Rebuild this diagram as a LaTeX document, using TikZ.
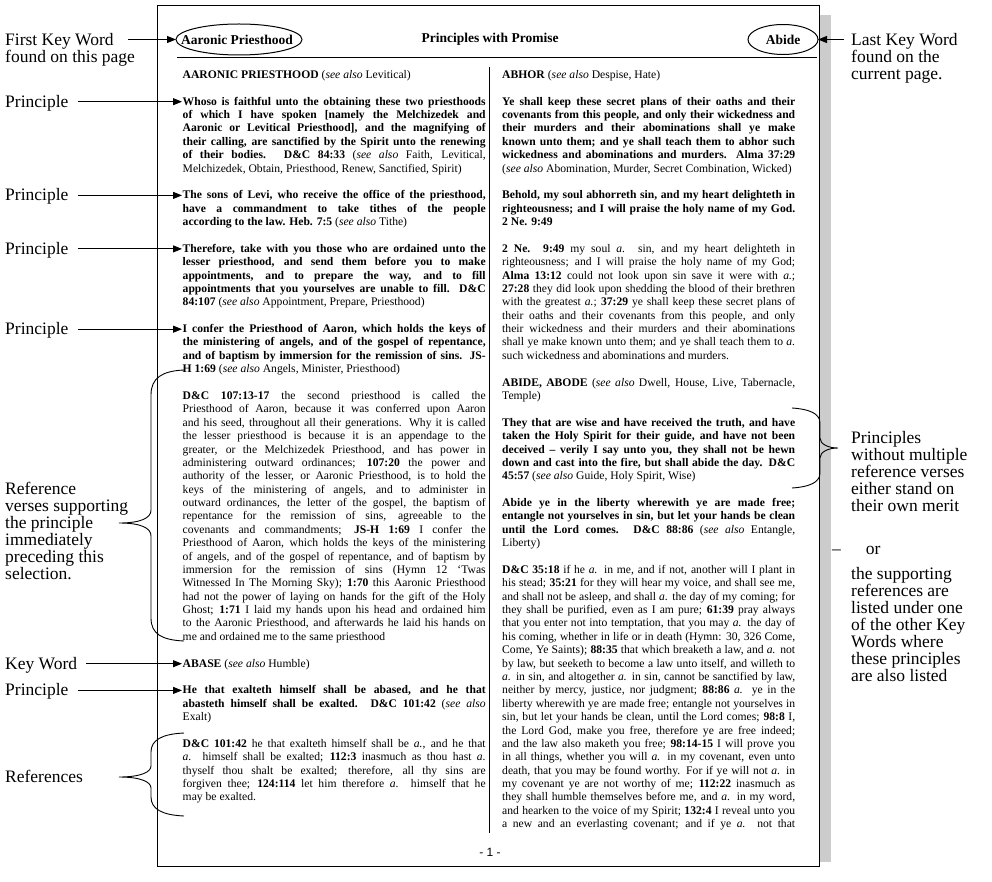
\documentclass[tikz,border=0pt]{standalone}
\usepackage{fontspec}
\setmainfont{Liberation Serif}
\newfontfamily\pnfont{Liberation Sans}
\usetikzlibrary{arrows.meta}
\definecolor{shadowgray}{RGB}{204,204,204}
\newcommand\JL[1]{\hbox to\hsize{#1}}
\newcommand\LL[1]{\hbox{#1}}
\newcommand\GAP{\vskip\baselineskip}
\newcommand\sa{\textit{see also}\ }
\newcommand\bodyfont{\fontsize{11.63}{13.38}\selectfont\lineskiplimit=-20pt }
\begin{document}
\begin{tikzpicture}[x=1pt,y=-1pt,
  lbl/.style={font=\fontsize{17.5}{17}\selectfont, inner sep=0, anchor=base west},
  arr/.style={-{Triangle[length=9pt,width=7pt]}, line width=0.9pt},
  brc/.style={line width=0.9pt},
  hdr/.style={font=\fontsize{13.5}{15}\selectfont\bfseries, inner sep=0}]
\useasboundingbox (0,0) rectangle (992,882);
% page
\fill[shadowgray] (819,15) rectangle (831,862);
\draw[line width=0.9pt] (157,5) rectangle (819,866);
% header
\node[hdr] (kw1) at (237,39.5) {Aaronic Priesthood};
\draw[line width=1pt] (239,39.5) ellipse [x radius=63, y radius=15.5];
\coordinate (e1w) at (176,39.5);
\node[hdr] (title) at (490,39.5) {Principles with Promise};
\node[hdr] (kw2) at (783,39.5) {Abide};
\draw[line width=1pt] (783,39.5) ellipse [x radius=35, y radius=15];
\coordinate (e2e) at (818,39.5);
\coordinate (rl) at (177,57);
\coordinate (rr) at (817,57);
\draw[line width=0.9pt] (rl) -- (rr);
\coordinate (dt) at (489,67);
\coordinate (db) at (489,833);
\draw[line width=0.9pt] (dt) -- (db);
\node[font=\pnfont\fontsize{12}{14}\selectfont, inner sep=0] (pn) at (490,852) {- 1 -};
% left column
\node[anchor=base west, inner sep=0] (leftcol) at (182.5,78.4) {\vtop{\hsize=303pt \bodyfont
\LL{\textbf{AARONIC PRIESTHOOD} (\sa Levitical)}
\GAP
\JL{\bfseries Whoso is faithful unto the obtaining these two priesthoods}
\JL{\bfseries of which I have spoken [namely the Melchizedek and}
\JL{\bfseries Aaronic or Levitical Priesthood], and the magnifying of}
\JL{\bfseries their calling, are sanctified by the Spirit unto the renewing}
\JL{\bfseries of their bodies. D\&C 84:33 \mdseries(\sa Faith, Levitical,}
\LL{Melchizedek, Obtain, Priesthood, Renew, Sanctified, Spirit)}
\GAP
\JL{\bfseries The sons of Levi, who receive the office of the priesthood,}
\JL{\bfseries have a commandment to take tithes of the people}
\LL{\bfseries according to the law. Heb. 7:5 \mdseries(\sa Tithe)}
\GAP
\JL{\bfseries Therefore, take with you those who are ordained unto the}
\JL{\bfseries lesser priesthood, and send them before you to make}
\JL{\bfseries appointments, and to prepare the way, and to fill}
\JL{\bfseries appointments that you yourselves are unable to fill. D\&C}
\LL{\textbf{84:107} (\sa Appointment, Prepare, Priesthood)}
\GAP
\JL{\bfseries I confer the Priesthood of Aaron, which holds the keys of}
\JL{\bfseries the ministering of angels, and of the gospel of repentance,}
\JL{\bfseries and of baptism by immersion for the remission of sins. JS-}
\LL{\textbf{H 1:69} (\sa Angels, Minister, Priesthood)}
\GAP
\JL{\textbf{D\&C 107:13-17} the second priesthood is called the}
\JL{Priesthood of Aaron, because it was conferred upon Aaron}
\JL{and his seed, throughout all their generations. Why it is called}
\JL{the lesser priesthood is because it is an appendage to the}
\JL{greater, or the Melchizedek Priesthood, and has power in}
\JL{administering outward ordinances; \textbf{107:20} the power and}
\JL{authority of the lesser, or Aaronic Priesthood, is to hold the}
\JL{keys of the ministering of angels, and to administer in}
\JL{outward ordinances, the letter of the gospel, the baptism of}
\JL{repentance for the remission of sins, agreeable to the}
\JL{covenants and commandments; \textbf{JS-H 1:69} I confer the}
\JL{Priesthood of Aaron, which holds the keys of the ministering}
\JL{of angels, and of the gospel of repentance, and of baptism by}
\JL{immersion for the remission of sins (Hymn 12 ‘Twas}
\JL{Witnessed In The Morning Sky); \textbf{1:70} this Aaronic Priesthood}
\JL{had not the power of laying on hands for the gift of the Holy}
\JL{Ghost; \textbf{1:71} I laid my hands upon his head and ordained him}
\JL{to the Aaronic Priesthood, and afterwards he laid his hands on}
\LL{me and ordained me to the same priesthood}
\GAP
\LL{\textbf{ABASE} (\sa Humble)}
\GAP
\JL{\bfseries He that exalteth himself shall be abased, and he that}
\JL{\bfseries abasteth himself shall be exalted. D\&C 101:42 \mdseries(\textit{see also}}
\LL{Exalt)}
\GAP
\JL{\textbf{D\&C 101:42} he that exalteth himself shall be \textit{a.}, and he that}
\JL{\textit{a.} himself shall be exalted; \textbf{112:3} inasmuch as thou hast \textit{a.}}
\JL{thyself thou shalt be exalted; therefore, all thy sins are}
\JL{forgiven thee; \textbf{124:114} let him therefore \textit{a.} himself that he}
\LL{may be exalted.}
}};
% right column
\node[anchor=base west, inner sep=0] (rightcol) at (502,78.4) {\vtop{\hsize=293pt \bodyfont
\LL{\textbf{ABHOR} (\sa Despise, Hate)}
\GAP
\JL{\bfseries Ye shall keep these secret plans of their oaths and their}
\JL{\bfseries covenants from this people, and only their wickedness and}
\JL{\bfseries their murders and their abominations shall ye make}
\JL{\bfseries known unto them; and ye shall teach them to abhor such}
\JL{\bfseries wickedness and abominations and murders. Alma 37:29}
\LL{(\sa Abomination, Murder, Secret Combination, Wicked)}
\GAP
\JL{\bfseries Behold, my soul abhorreth sin, and my heart delighteth in}
\JL{\bfseries righteousness; and I will praise the holy name of my God.}
\LL{\bfseries 2 Ne. 9:49}
\GAP
\JL{\textbf{2 Ne. 9:49} my soul \textit{a.} sin, and my heart delighteth in}
\JL{righteousness; and I will praise the holy name of my God;}
\JL{\textbf{Alma 13:12} could not look upon sin save it were with \textit{a.};}
\JL{\textbf{27:28} they did look upon shedding the blood of their brethren}
\JL{with the greatest \textit{a.}; \textbf{37:29} ye shall keep these secret plans of}
\JL{their oaths and their covenants from this people, and only}
\JL{their wickedness and their murders and their abominations}
\JL{shall ye make known unto them; and ye shall teach them to \textit{a.}}
\LL{such wickedness and abominations and murders.}
\GAP
\JL{\textbf{ABIDE, ABODE} (\sa Dwell, House, Live, Tabernacle,}
\LL{Temple)}
\GAP
\JL{\bfseries They that are wise and have received the truth, and have}
\JL{\bfseries taken the Holy Spirit for their guide, and have not been}
\JL{\bfseries deceived – verily I say unto you, they shall not be hewn}
\JL{\bfseries down and cast into the fire, but shall abide the day. D\&C}
\LL{\textbf{45:57} (\sa Guide, Holy Spirit, Wise)}
\GAP
\JL{\bfseries Abide ye in the liberty wherewith ye are made free;}
\JL{\bfseries entangle not yourselves in sin, but let your hands be clean}
\JL{\bfseries until the Lord comes. D\&C 88:86 \mdseries(\sa Entangle,}
\LL{Liberty)}
\GAP
\JL{\textbf{D\&C 35:18} if he \textit{a.} in me, and if not, another will I plant in}
\JL{his stead; \textbf{35:21} for they will hear my voice, and shall see me,}
\JL{and shall not be asleep, and shall \textit{a.} the day of my coming; for}
\JL{they shall be purified, even as I am pure; \textbf{61:39} pray always}
\JL{that you enter not into temptation, that you may \textit{a.} the day of}
\JL{his coming, whether in life or in death (Hymn: 30, 326 Come,}
\JL{Come, Ye Saints); \textbf{88:35} that which breaketh a law, and \textit{a.} not}
\JL{by law, but seeketh to become a law unto itself, and willeth to}
\JL{\textit{a.} in sin, and altogether \textit{a.} in sin, cannot be sanctified by law,}
\JL{neither by mercy, justice, nor judgment; \textbf{88:86} \textit{a.} ye in the}
\JL{liberty wherewith ye are made free; entangle not yourselves in}
\JL{sin, but let your hands be clean, until the Lord comes; \textbf{98:8} I,}
\JL{the Lord God, make you free, therefore ye are free indeed;}
\JL{and the law also maketh you free; \textbf{98:14-15} I will prove you}
\JL{in all things, whether you will \textit{a.} in my covenant, even unto}
\JL{death, that you may be found worthy. For if ye will not \textit{a.} in}
\JL{my covenant ye are not worthy of me; \textbf{112:22} inasmuch as}
\JL{they shall humble themselves before me, and \textit{a.} in my word,}
\JL{and hearken to the voice of my Spirit; \textbf{132:4} I reveal unto you}
\JL{a new and an everlasting covenant; and if ye \textit{a.} not that}
}};
% left annotations
\node[lbl] (fk1) at (5,45.5) {First Key Word};
\node[lbl] (fk2) at (5,62.5) {found on this page};
\draw[arr] ([xshift=14pt]fk1.east |- e1w) -- (e1w);
\node[lbl] (lk1) at (851,45.5) {Last Key Word};
\node[lbl] (lk2) at (851,62.5) {found on the};
\node[lbl] (lk3) at (851,79.5) {current page.};
\draw[arr] ([xshift=-7pt]lk1.west |- e2e) -- (e2e);
\coordinate (t1) at (182,101.7);
\coordinate (t2) at (182,195.4);
\coordinate (t3) at (182,248.9);
\coordinate (t4) at (182,329.2);
\coordinate (t5) at (182,663.7);
\coordinate (t6) at (182,690.4);
\node[lbl] (p1) at (5,107.2) {Principle};
\node[lbl] (p2) at (5,200.9) {Principle};
\node[lbl] (p3) at (5,254.4) {Principle};
\node[lbl] (p4) at (5,334.7) {Principle};
\node[lbl] (kwl) at (5,669.2) {Key Word};
\node[lbl] (p5) at (5,695.9) {Principle};
\draw[arr] ([xshift=9pt]p1.east |- t1) -- (t1);
\draw[arr] ([xshift=9pt]p2.east |- t2) -- (t2);
\draw[arr] ([xshift=9pt]p3.east |- t3) -- (t3);
\draw[arr] ([xshift=9pt]p4.east |- t4) -- (t4);
\draw[arr] ([xshift=9pt]kwl.east |- t5) -- (t5);
\draw[arr] ([xshift=9pt]p5.east |- t6) -- (t6);
% brace 1
\node[lbl] (r1) at (5,494.5) {Reference};
\node[lbl] (r2) at (5,511.5) {verses supporting};
\node[lbl] (r3) at (5,528.5) {the principle};
\node[lbl] (r4) at (5,545.5) {immediately};
\node[lbl] (r5) at (5,562.5) {preceding this};
\node[lbl] (r6) at (5,579.5) {selection.};
\coordinate (b1t) at (184,370);
\coordinate (b1m) at (119,523);
\coordinate (b1b) at (184,641);
\draw[brc] (b1t) .. controls (162,371) and (151,378) .. (151,395) -- (151,510)
  .. controls (151,518) and (141,523) .. (b1m)
  .. controls (141,523) and (151,528) .. (151,536) -- (151,618)
  .. controls (151,634) and (162,640) .. (b1b);
% brace 2
\node[lbl] (ref) at (5,782.5) {References};
\coordinate (b2t) at (184,733);
\coordinate (b2m) at (119,777);
\coordinate (b2b) at (184,816);
\draw[brc] (b2t) .. controls (162,734) and (151,740) .. (151,752) -- (151,766)
  .. controls (151,772) and (141,777) .. (b2m)
  .. controls (141,777) and (151,782) .. (151,788) -- (151,797)
  .. controls (151,809) and (162,815) .. (b2b);
% right brace
\coordinate (b3t) at (792,408);
\coordinate (b3m) at (838,448);
\coordinate (b3b) at (792,488);
\draw[brc] (b3t) .. controls (808,409) and (820,413) .. (820,423) -- (820,438)
  .. controls (820,444) and (828,448) .. (b3m)
  .. controls (828,448) and (820,452) .. (820,458) -- (820,473)
  .. controls (820,483) and (808,487) .. (b3b);
% right annotations
\node[lbl] (q1) at (851,443.5) {Principles};
\node[lbl] (q2) at (851,460.5) {without multiple};
\node[lbl] (q3) at (851,477.5) {reference verses};
\node[lbl] (q4) at (851,494.5) {either stand on};
\node[lbl] (q5) at (851,511.5) {their own merit};
\node[lbl] (q6) at (832,554.5) {–\hspace{25pt}or};
\node[lbl] (s1) at (851,579.5) {the supporting};
\node[lbl] (s2) at (851,596.5) {references are};
\node[lbl] (s3) at (851,613.5) {listed under one};
\node[lbl] (s4) at (851,630.5) {of the other Key};
\node[lbl] (s5) at (851,647.5) {Words where};
\node[lbl] (s6) at (851,664.5) {these principles};
\node[lbl] (s7) at (851,681.5) {are also listed};
\end{tikzpicture}
\end{document}
